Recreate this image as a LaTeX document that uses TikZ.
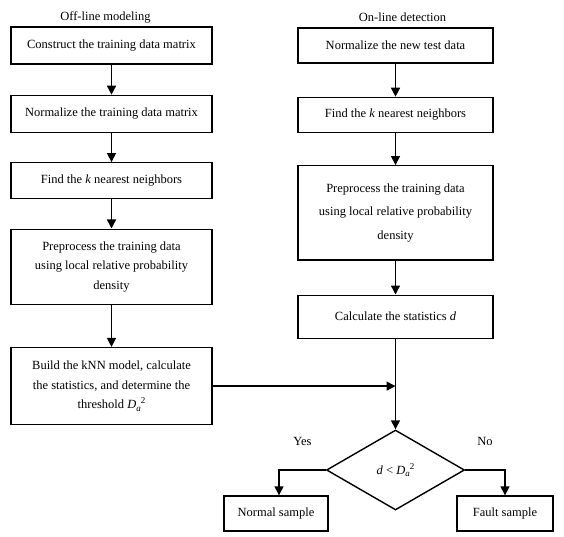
\documentclass[tikz,border=0pt]{standalone}
\usepackage{fontspec}
\setmainfont{Liberation Serif}
\usepackage{tikz}
\usetikzlibrary{shapes.geometric, arrows.meta, positioning, calc}

\newcommand{\thr}{\textit{D}\raisebox{-0.4ex}{\fontsize{9}{9}\selectfont\textit{a}}\raisebox{0.95ex}{\fontsize{9}{9}\selectfont 2}}

\begin{document}
\begin{tikzpicture}[
  font=\fontsize{12.5}{19.5}\selectfont,
  node distance=30pt,
  process/.style={rectangle, minimum width=201pt, minimum height=37pt, text centered, draw=black, line width=1.4pt, align=center, inner sep=2pt},
  online/.style={process, minimum width=195pt},
  result/.style={rectangle, minimum height=35pt, text centered, draw=black, line width=1.4pt, align=center},
  decision/.style={diamond, minimum width=138pt, minimum height=80pt, inner sep=0pt, text centered, draw=black, line width=1.4pt},
  title/.style={inner sep=1pt},
  arrow/.style={line width=1.4pt, -{Triangle[length=9pt, width=9pt]}}
]
\useasboundingbox (0,0) rectangle (564pt,-537pt);
% off-line modeling
\node (construct) [process] at (111.5pt,-45.5pt) {Construct the training data matrix};
\node (offtitle) [title, above=2pt of construct, xshift=-6pt] {Off-line modeling};
\node (normtrain) [process, below=30pt of construct] {Normalize the training data matrix};
\node (findtrain) [process, below=29pt of normtrain, minimum height=36pt] {Find the \textit{k} nearest neighbors};
\node (preptrain) [process, below=29pt of findtrain, minimum height=75pt] {Preprocess the training data\\using local relative probability\\density};
\node (build) [process, below=42pt of preptrain, minimum height=77pt] {Build the kNN model, calculate\\the statistics, and determine the\\threshold \thr};
% on-line detection
\node (normtest) [online, minimum height=35pt] at (395.5pt,-45.5pt) {Normalize the new test data};
\node (ontitle) [title, above=4pt of normtest, xshift=7pt] {On-line detection};
\node (findtest) [online, below=33pt of normtest, minimum height=35pt] {Find the \textit{k} nearest neighbors};
\node (preptest) [online, below=32pt of findtest, minimum height=94pt] {Preprocess the training data\\[4pt]using local relative probability\\[4pt]density};
\node (calc) [online, below=34pt of preptest, minimum height=43pt] {Calculate the statistics \textit{d}};
% decision
\node (decide) [decision] at (calc.south |- 0,-470pt) {\textit{d} < \thr};
\node (normal) [result, minimum width=104pt] at (276pt,-513.5pt) {Normal sample};
\node (fault) [result, minimum width=96pt] at (505pt,-513.5pt) {Fault sample};
\coordinate (join) at (calc.south |- build.east);

\draw [arrow] (construct) -- (normtrain);
\draw [arrow] (normtrain) -- (findtrain);
\draw [arrow] (findtrain) -- (preptrain);
\draw [arrow] (preptrain) -- (build);
\draw [arrow] (normtest) -- (findtest);
\draw [arrow] (findtest) -- (preptest);
\draw [arrow] (preptest) -- (calc);
\draw [arrow] (build.east) -- (join);
\draw [arrow] (calc.south) -- (decide.north);
\draw [arrow] (decide.west) -| node[pos=0.25, above=20pt] {Yes} ([xshift=3pt]normal.north);
\draw [arrow] (decide.east) -| node[pos=0.25, above=20pt] {No} (fault.north);
\end{tikzpicture}
\end{document}
